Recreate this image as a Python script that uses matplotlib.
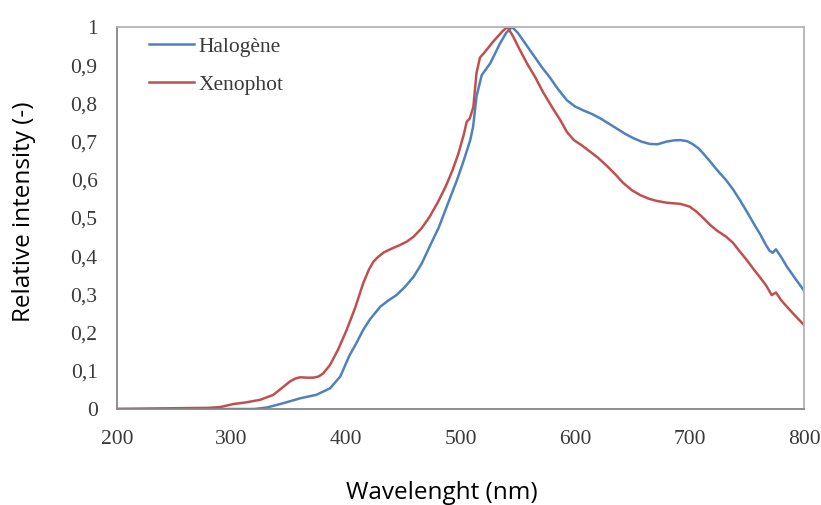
import matplotlib
matplotlib.use("Agg")
import matplotlib.pyplot as plt
import numpy as np

# Halogène spectrum (wavelength nm, relative intensity)
halo_wl = [200, 250, 300, 320, 331, 345, 360, 374, 386, 395, 403, 409, 415, 421, 430, 437, 444, 451, 459,
           466, 473, 481, 488, 497, 502, 506, 508.5, 511, 514, 518.5, 526, 534.5, 540, 545, 550, 557, 564,
           571, 578, 585, 593, 600, 607, 615, 622, 629, 636, 644, 651, 658, 665, 672, 680, 686, 692, 698,
           703, 708, 712, 718, 724, 732, 738, 744, 750, 756, 762, 767, 770, 772.6, 775.5, 780, 785, 792, 800]
halo_val = [0.0, 0.0, 0.0, 0.0, 0.004, 0.015, 0.028, 0.037, 0.054, 0.085, 0.14, 0.172, 0.207, 0.235, 0.268, 0.284, 0.298, 0.318, 0.346,
            0.38, 0.425, 0.475, 0.53, 0.6, 0.643, 0.68, 0.704, 0.739, 0.818, 0.874, 0.905, 0.957, 0.985, 1.0, 0.985, 0.955, 0.925,
            0.895, 0.868, 0.838, 0.808, 0.792, 0.782, 0.772, 0.761, 0.748, 0.735, 0.72, 0.709, 0.7, 0.694, 0.693, 0.70, 0.703, 0.704, 0.701,
            0.693, 0.682, 0.669, 0.648, 0.626, 0.599, 0.575, 0.547, 0.517, 0.486, 0.456, 0.428, 0.414, 0.409, 0.418, 0.398, 0.373, 0.343, 0.31]

# Xenophot spectrum
xeno_wl = [200, 250, 280, 290, 301.6, 312, 325, 336.5, 344, 351, 356, 360, 366, 371.5, 376, 380, 386, 393, 400.6, 408,
           415, 420, 424, 428, 433, 440, 447, 453, 459, 466, 473, 480, 487, 493, 498, 503, 505.4, 508, 511.2, 514,
           517, 521.4, 528.6, 537, 541, 546, 551, 558, 565, 572, 580, 587, 593, 599, 606, 613, 620, 628, 635, 642,
           650, 657, 664, 671, 680, 692, 700, 706, 712, 718, 724, 732, 738, 744, 750, 756, 762, 767, 771.8, 775.5,
           780, 785, 792, 800]
xeno_val = [0.0, 0.002, 0.003, 0.005, 0.013, 0.017, 0.024, 0.037, 0.055, 0.072, 0.08, 0.083, 0.082, 0.082, 0.085, 0.093, 0.115, 0.155, 0.207, 0.265,
            0.329, 0.365, 0.386, 0.398, 0.41, 0.42, 0.429, 0.438, 0.451, 0.473, 0.503, 0.54, 0.582, 0.625, 0.667, 0.72, 0.752, 0.76, 0.79, 0.88,
            0.92, 0.935, 0.962, 0.99, 1.0, 0.975, 0.945, 0.905, 0.87, 0.83, 0.79, 0.757, 0.725, 0.704, 0.69, 0.674, 0.658, 0.636, 0.615, 0.592,
            0.572, 0.56, 0.551, 0.545, 0.54, 0.537, 0.53, 0.517, 0.5, 0.482, 0.467, 0.451, 0.435, 0.412, 0.39, 0.366, 0.343, 0.323, 0.298, 0.305,
            0.285, 0.268, 0.245, 0.22]

x_ticks = [200, 300, 400, 500, 600, 700, 800]
y_ticks = [0, 0.1, 0.2, 0.3, 0.4, 0.5, 0.6, 0.7, 0.8, 0.9, 1.0]
y_tick_labels = ["0", "0,1", "0,2", "0,3", "0,4", "0,5", "0,6", "0,7", "0,8", "0,9", "1"]

fig = plt.figure(figsize=(8.21, 5.05), dpi=100)
ax = fig.add_axes([117/821, 1 - 409/505, (804 - 117)/821, (409 - 27)/505])

ax.plot(halo_wl, halo_val, color="#4f81bd", lw=1.8, label="Halogène")
ax.plot(xeno_wl, xeno_val, color="#c0504d", lw=1.8, label="Xenophot")

ax.set_xlim(200, 800)
ax.set_ylim(0, 1)
ax.set_xticks(x_ticks)
ax.set_xticklabels([str(t) for t in x_ticks], family="Liberation Serif", fontsize=15.5, color="#3a3a3a")
ax.set_yticks(y_ticks)
ax.set_yticklabels(y_tick_labels, family="Liberation Serif", fontsize=15.5, color="#3a3a3a")
ax.tick_params(axis="y", length=0, pad=14)
ax.tick_params(axis="x", length=0, pad=15)

for s in ["left", "bottom"]:
    ax.spines[s].set_color("#868686")
    ax.spines[s].set_linewidth(1.3)
for s in ["top", "right"]:
    ax.spines[s].set_color("#b3b3b3")
    ax.spines[s].set_linewidth(1.3)

leg = ax.legend(loc="upper left", bbox_to_anchor=(0.0466, 0.975), frameon=False,
                prop={"family": "Liberation Serif", "size": 15.5}, handlelength=2.1,
                handletextpad=0.2, labelspacing=0.85, borderaxespad=0, borderpad=0)
for t in leg.get_texts():
    t.set_color("#3a3a3a")

fig.text(441.5/821, 1 - 493/505, "Wavelenght (nm)", family="Open Sans", fontsize=17.5,
         ha="center", va="center", color="black")
fig.text(24/821, 1 - 212/505, "Relative intensity (-)", family="Open Sans", fontsize=17.5,
         ha="center", va="center", rotation=90, color="black")

fig.savefig("out.png", dpi=100)
